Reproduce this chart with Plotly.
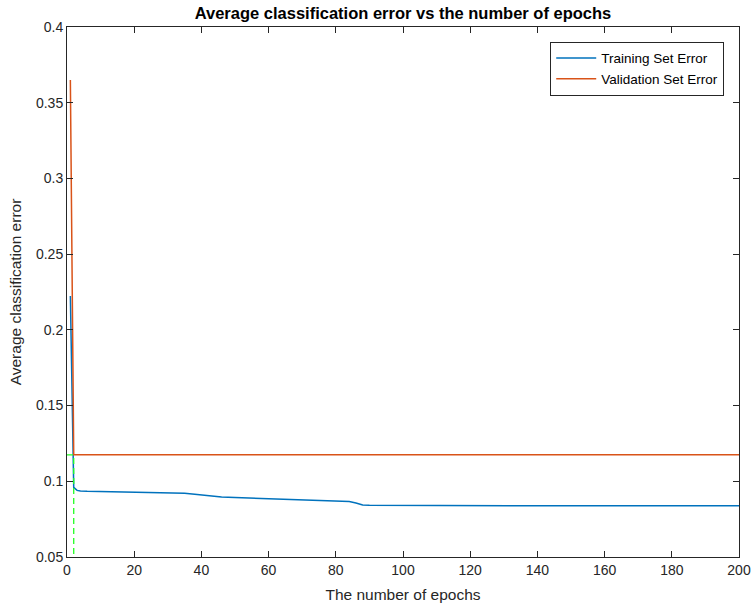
import plotly.graph_objects as go

# Training curve (epoch, average classification error)
train_epochs = [1, 2, 3, 4, 6, 10, 20, 30, 35, 38, 42, 46, 50, 60, 70, 80, 84, 86, 88, 90, 100, 130, 160, 200]
train_error = [0.2224, 0.0960, 0.0940, 0.0936, 0.0934, 0.0932, 0.0929, 0.0925, 0.0921, 0.0915,
               0.0905, 0.0897, 0.0893, 0.0886, 0.0878, 0.0871, 0.0866, 0.0856, 0.0843, 0.0841,
               0.0840, 0.0839, 0.0838, 0.0838]

# Validation curve
val_epochs = [1, 2, 200]
val_error = [0.365, 0.1175, 0.1175]

# Epoch at which the validation error reaches its minimum
best_idx = val_error.index(min(val_error))
best_epoch = val_epochs[best_idx]
best_val = val_error[best_idx]

x_ticks = [0, 20, 40, 60, 80, 100, 120, 140, 160, 180, 200]
y_ticks = [0.05, 0.1, 0.15, 0.2, 0.25, 0.3, 0.35, 0.4]
y_tick_text = ["0.05", "0.1", "0.15", "0.2", "0.25", "0.3", "0.35", "0.4"]

FONT = "Liberation Sans, Arial, Helvetica, sans-serif"
AXIS_COLOR = "#262626"

fig = go.Figure()
fig.add_trace(go.Scatter(x=train_epochs, y=train_error, mode="lines",
                         name="Training Set Error",
                         line=dict(color="#0072BD", width=1.5)))
fig.add_trace(go.Scatter(x=val_epochs, y=val_error, mode="lines",
                         name="Validation Set Error",
                         line=dict(color="#D95319", width=1.5)))
# Marker lines for the best validation epoch
fig.add_trace(go.Scatter(x=[0, best_epoch, best_epoch], y=[best_val, best_val, 0.05],
                         mode="lines", showlegend=False,
                         line=dict(color="#22ff22", width=1.3, dash="6px,4px")))

axis_common = dict(
    showgrid=False, zeroline=False, showline=True, linecolor=AXIS_COLOR, linewidth=1,
    mirror="ticks", ticks="inside", ticklen=6, tickcolor=AXIS_COLOR, tickwidth=1,
    tickfont=dict(family=FONT, size=14, color=AXIS_COLOR), automargin=False,
)

fig.update_layout(
    width=752, height=608,
    margin=dict(l=67, r=13, t=27, b=51),
    paper_bgcolor="white", plot_bgcolor="white",
    title=dict(text="<b>Average classification error vs the number of epochs</b>",
               x=(67 + 739) / 2 / 752, xanchor="center", y=1 - 13 / 608, yanchor="middle",
               font=dict(family=FONT, size=16.5, color="black")),
    xaxis=dict(range=[0, 200], tickvals=x_ticks,
               title=dict(text="The number of epochs", standoff=12,
                          font=dict(family=FONT, size=15.5, color=AXIS_COLOR)),
               **axis_common),
    yaxis=dict(range=[0.05, 0.4], tickvals=y_ticks, ticktext=y_tick_text,
               title=dict(text="Average classification error", standoff=10,
                          font=dict(family=FONT, size=15.5, color=AXIS_COLOR)),
               **axis_common),
    legend=dict(x=0.978, y=0.972, xanchor="right", yanchor="top",
                bgcolor="white", bordercolor=AXIS_COLOR, borderwidth=1,
                font=dict(family=FONT, size=13.5, color="black"),
                tracegroupgap=0, itemwidth=40),
    showlegend=True,
)

fig.write_html("out.html")
